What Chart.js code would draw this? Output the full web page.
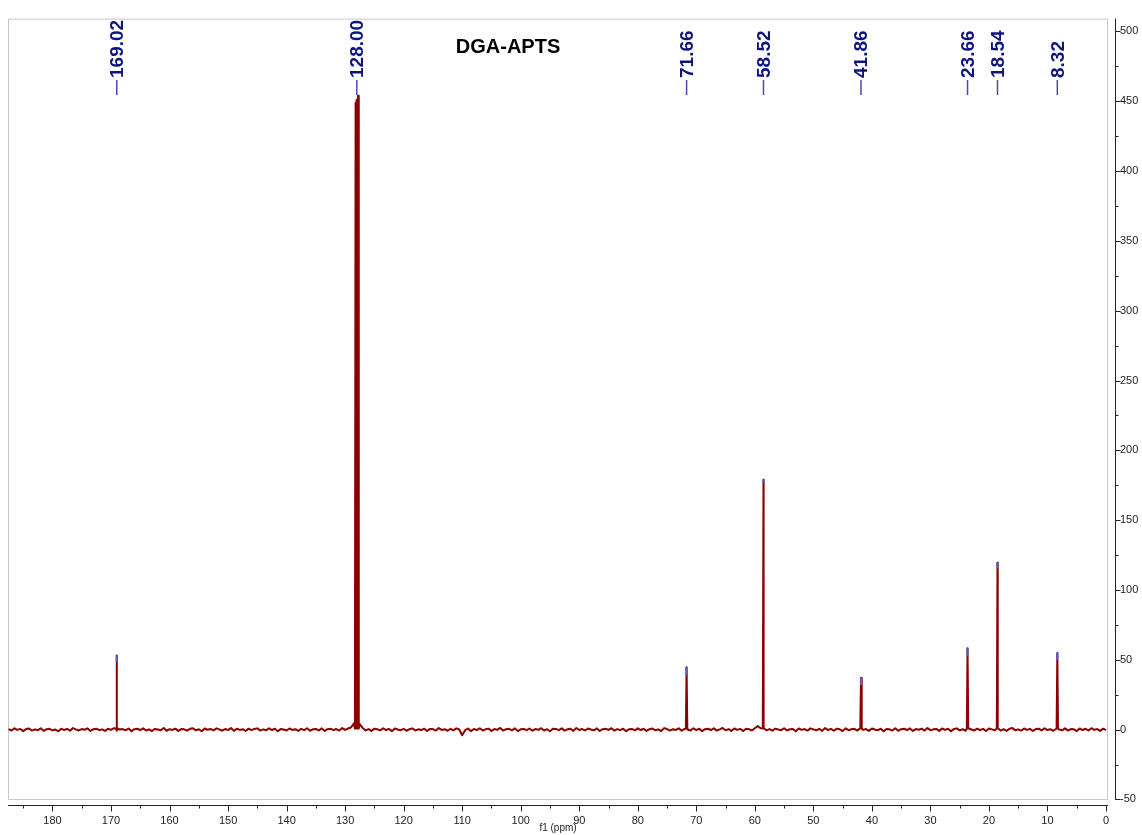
<!DOCTYPE html>
<html>
<head>
<meta charset="utf-8">
<title>DGA-APTS 13C NMR</title>
<script src="https://cdn.jsdelivr.net/npm/chart.js@4.4.1/dist/chart.umd.min.js"></script>
<style>
  html, body { margin: 0; padding: 0; background: #fff; }
  #wrap { width: 1142px; height: 835px; }
</style>
</head>
<body>
<div id="wrap"><canvas id="nmr" width="1142" height="835"></canvas></div>
<script>
// Spectrum data (ppm / intensity)
const noiseStart = 187.5;   // first baseline point, ppm
const noiseStep = 0.5;      // ppm between baseline points
const baselineNoise = [
  0.3,-0.6,0.9,-0.2,0.5,-1.1,0.4,0.8,-0.7,0.2,-0.4,1.0,-0.9,0.3,0.6,-0.5,0.1,-1.2,0.7,-0.3,
  0.5,-0.8,1.1,0.2,-0.6,0.4,-0.1,0.9,-1.0,0.3,0.7,-0.4,0.2,-0.9,0.6,-0.2,1.0,-0.7,0.1,0.4,
  -0.5,0.8,-1.1,0.3,0.6,-0.3,0.9,-0.6,0.2,-1.0,0.5,0.1,-0.4,1.2,-0.8,0.3,-0.2,0.7,-0.9,0.4,
  0.2,-0.7,0.6,1.0,-0.5,0.3,-1.2,0.8,-0.1,0.5,-0.6,0.9,0.2,-0.8,0.4,-0.3,1.1,-0.9,0.6,-0.2,
  0.3,-1.0,0.7,-0.4,0.5,0.9,-0.7,0.2,-0.5,1.0,-0.3,0.6,-1.1,0.4,0.1,-0.6,0.8,-0.2,0.3,-0.9,
  0.6,-0.4,1.0,-0.8,0.2,0.5,-0.6,0.9,-1.0,0.3,0.7,-0.3,0.4,-0.7,1.1,-0.2,0.8,1.5,4.5,5.0,
  4.0,1.2,-0.6,0.4,-0.9,0.7,0.2,-0.5,1.0,-0.3,0.5,-1.1,0.8,0.1,-0.4,0.6,-0.8,0.3,0.9,-0.6,
  0.2,-0.3,0.7,-1.0,0.5,0.4,-0.7,1.1,-0.2,0.3,-0.8,0.6,-0.5,0.9,0.1,-4.0,-0.4,0.8,-1.1,0.5,
  -0.3,1.0,-0.6,0.2,0.7,-0.9,0.4,-0.2,1.2,-0.7,0.3,0.6,-0.5,0.9,-1.0,0.2,0.5,-0.4,0.8,-0.8,
  0.4,-0.1,1.0,-0.6,0.3,-1.2,0.7,0.5,-0.4,0.9,-0.7,0.2,0.6,-0.9,1.1,-0.3,0.4,-0.6,0.8,0.1,
  -0.5,0.9,-1.0,0.3,0.6,-0.2,1.0,-0.8,0.4,-0.4,0.7,-1.1,0.2,0.5,-0.6,0.9,-0.3,0.6,-0.9,0.3,
  0.8,-0.5,0.2,-1.0,1.1,0.4,-0.7,0.3,-0.2,0.9,-0.8,0.5,0.1,-0.6,1.0,-0.4,0.7,-1.1,0.3,0.6,
  -0.3,0.9,-0.7,0.2,1.2,-0.5,0.4,-0.9,0.8,-0.2,0.5,-1.0,0.6,0.3,-0.6,1.0,2.5,1.0,0.8,-0.5,
  0.4,-0.8,0.7,0.1,-0.4,1.0,-0.6,0.3,0.5,-1.1,0.8,-0.2,0.4,-0.7,0.9,0.2,-0.5,0.6,-0.9,1.1,
  -0.3,0.5,-0.8,0.7,0.2,-1.0,0.9,-0.4,0.3,0.6,-0.7,1.0,-0.2,0.4,-0.9,0.8,0.1,-0.5,0.7,-1.1,
  0.5,0.2,-0.6,1.0,-0.8,0.3,0.6,-0.3,0.9,-1.0,0.4,-0.1,0.7,-0.7,1.1,-0.4,0.2,0.5,-0.9,0.8,
  -0.2,0.6,-1.1,0.4,0.9,-0.5,0.3,-0.8,1.0,0.1,-0.6,0.7,-0.3,0.5,-1.0,0.8,0.2,-0.4,0.9,-0.7,
  0.3,-0.9,0.6,1.1,-0.5,0.2,-0.7,0.8,-0.2,0.5,-1.0,0.4,0.7,-0.6,1.0,-0.3,0.3,-0.8,0.6,0.1,
  -0.5,0.9,-0.7,0.4,0.2,-1.0,0.8,-0.3,0.6,-0.6,1.0,-0.2,0.4,-0.9,0.7,-0.4
];

// Peaks (the 128 ppm solvent signal is a triplet)
const peakShifts  = [169.02, 128.21, 128.00, 127.79, 71.66, 58.52, 41.86, 23.66, 18.54, 8.32];
const peakHeights = [53, 449, 451, 454, 44.7, 179, 36.9, 58.2, 119.5, 54.9];

// Blue peak-pick marks at the top of each peak
const tipShifts = [169.02, 71.66, 58.52, 41.86, 23.66, 18.54, 8.32];
const tipLow    = [48.5, 39, 176.5, 32, 52.6, 115.3, 49.7];
const tipHigh   = [53, 44.7, 179, 36.9, 58.2, 119.5, 54.9];

// Peak labels along the top
const labelShifts = [169.02, 128.00, 71.66, 58.52, 41.86, 23.66, 18.54, 8.32];
const labelTexts  = ['169.02', '128.00', '71.66', '58.52', '41.86', '23.66', '18.54', '8.32'];

// Axes
const xTicks = [0, 10, 20, 30, 40, 50, 60, 70, 80, 90, 100, 110, 120, 130, 140, 150, 160, 170, 180];
const xMinorTicks = [5, 15, 25, 35, 45, 55, 65, 75, 85, 95, 105, 115, 125, 135, 145, 155, 165, 175, 185];
const yTicks = [-50, 0, 50, 100, 150, 200, 250, 300, 350, 400, 450, 500];
const yMinorTicks = [-25, 25, 75, 125, 175, 225, 275, 325, 375, 425, 475];

// build the line: baseline points plus a narrow spike for every peak
const spectrum = baselineNoise.map((v, i) => ({ x: noiseStart - i * noiseStep, y: v }));
peakShifts.forEach((p, k) => {
  spectrum.push({ x: p + 0.12, y: 0.8 }, { x: p, y: peakHeights[k] }, { x: p - 0.12, y: 0.8 });
});
spectrum.sort((a, b) => b.x - a.x);

const tips = [];
tipShifts.forEach((p, k) => {
  tips.push({ x: p, y: tipLow[k] }, { x: p, y: tipHigh[k] }, { x: p, y: null });
});

const FONT = "'Liberation Sans', Arial, Helvetica, sans-serif";

// frame, axis lines, minor ticks, title and peak labels
const decor = {
  id: 'decor',
  beforeDatasetsDraw(chart) {
    const { ctx, chartArea: a } = chart;
    ctx.save();
    ctx.strokeStyle = '#c8c8c8';
    ctx.lineWidth = 1;
    ctx.strokeRect(a.left + 0.5, a.top + 0.5, a.right - a.left - 1, a.bottom - a.top - 1);
    ctx.restore();
  },
  afterDraw(chart) {
    const { ctx, chartArea: a, scales } = chart;
    const xs = scales.x, ys = scales.y;
    ctx.save();

    // x axis below the frame
    const ax = a.bottom + 5.5;
    ctx.strokeStyle = '#222';
    ctx.lineWidth = 1;
    ctx.beginPath();
    ctx.moveTo(a.left, ax);
    ctx.lineTo(a.right, ax);
    xTicks.forEach(v => {
      const px = Math.round(xs.getPixelForValue(v)) + 0.5;
      ctx.moveTo(px, ax);
      ctx.lineTo(px, ax + 6);
    });
    xMinorTicks.forEach(v => {
      const px = Math.round(xs.getPixelForValue(v)) + 0.5;
      ctx.moveTo(px, ax);
      ctx.lineTo(px, ax + 3);
    });
    ctx.stroke();

    // y axis right of the frame
    const ay = a.right + 7.5;
    ctx.beginPath();
    ctx.moveTo(ay, a.top);
    ctx.lineTo(ay, a.bottom);
    yTicks.forEach(v => {
      const py = Math.round(ys.getPixelForValue(v)) + 0.5;
      ctx.moveTo(ay, py);
      ctx.lineTo(ay + 5, py);
    });
    yMinorTicks.forEach(v => {
      const py = Math.round(ys.getPixelForValue(v)) + 0.5;
      ctx.moveTo(ay, py);
      ctx.lineTo(ay + 3, py);
    });
    ctx.stroke();

    // title
    ctx.fillStyle = '#000';
    ctx.font = 'bold 20px ' + FONT;
    ctx.textAlign = 'center';
    ctx.textBaseline = 'middle';
    ctx.fillText('DGA-APTS', 508, 47);

    // peak labels, vertical
    labelShifts.forEach((p, k) => {
      const px = xs.getPixelForValue(p);
      ctx.strokeStyle = '#4a4aa8';
      ctx.lineWidth = 1.5;
      ctx.beginPath();
      ctx.moveTo(px, 80);
      ctx.lineTo(px, 95);
      ctx.stroke();

      ctx.save();
      ctx.translate(px, 78);
      ctx.rotate(-Math.PI / 2);
      ctx.fillStyle = '#0c1480';
      ctx.font = 'bold 19px ' + FONT;
      ctx.textAlign = 'left';
      ctx.textBaseline = 'middle';
      ctx.fillText(labelTexts[k], 0, 1);
      ctx.restore();
    });

    ctx.restore();
  }
};

new Chart(document.getElementById('nmr'), {
  type: 'line',
  data: {
    datasets: [
      {
        label: 'peak pick',
        data: tips,
        borderColor: '#5a5ac8',
        borderWidth: 2.2,
        pointRadius: 0,
        spanGaps: false,
        order: 0
      },
      {
        label: 'spectrum',
        data: spectrum,
        borderColor: '#8b0000',
        borderWidth: 2,
        borderJoinStyle: 'round',
        pointRadius: 0,
        tension: 0,
        order: 1
      }
    ]
  },
  options: {
    responsive: false,
    animation: false,
    events: [],
    layout: { padding: { left: 8, top: 12, right: 0, bottom: 0 } },
    plugins: {
      legend: { display: false },
      tooltip: { enabled: false }
    },
    scales: {
      x: {
        type: 'linear',
        reverse: true,
        min: -0.34,
        max: 187.6,
        afterBuildTicks: s => { s.ticks = xTicks.map(v => ({ value: v })); },
        afterFit: s => { s.height = 35; },
        grid: { display: false, drawTicks: false },
        border: { display: false },
        ticks: {
          padding: 14,
          color: '#222',
          font: { family: FONT, size: 11 },
          maxRotation: 0,
          autoSkip: false,
          callback: v => String(v)
        },
        title: {
          display: true,
          text: 'f1 (ppm)',
          color: '#222',
          font: { family: FONT, size: 10 },
          padding: { top: 0, bottom: 1 }
        }
      },
      y: {
        type: 'linear',
        position: 'right',
        min: -50.4,
        max: 509.2,
        afterBuildTicks: s => { s.ticks = yTicks.map(v => ({ value: v })); },
        afterFit: s => { s.width = 34; },
        grid: { display: false, drawTicks: false },
        border: { display: false },
        ticks: {
          padding: 12,
          color: '#222',
          font: { family: FONT, size: 11 },
          autoSkip: false,
          callback: v => String(v)
        }
      }
    }
  },
  plugins: [decor]
});
</script>
</body>
</html>
